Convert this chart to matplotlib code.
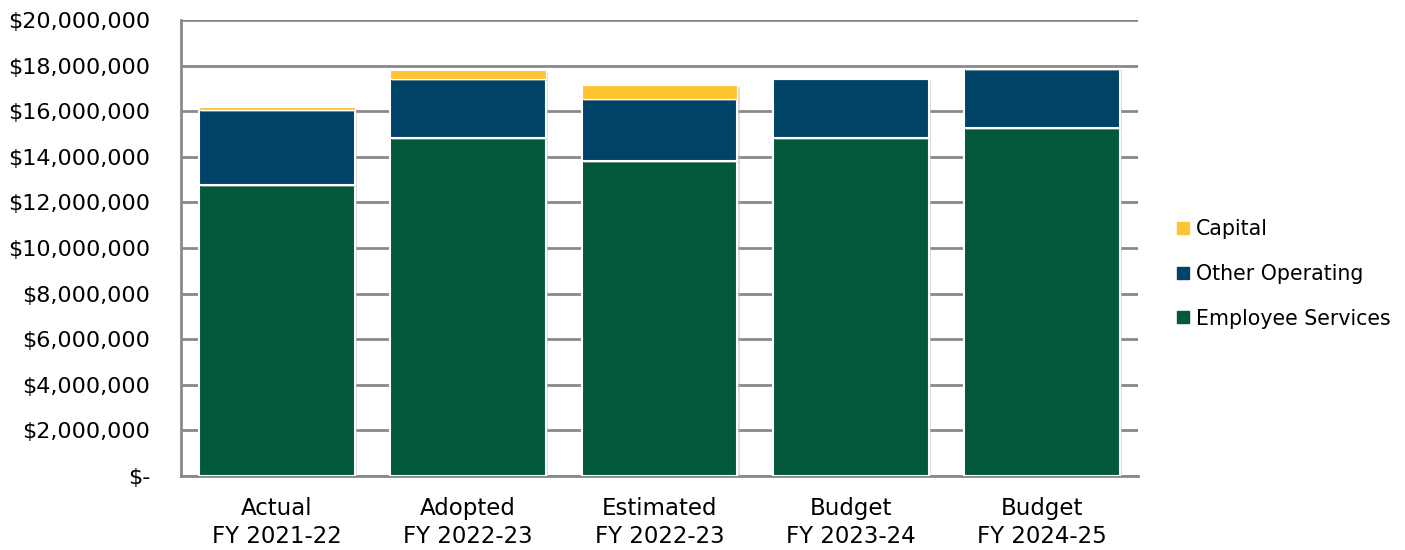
import matplotlib
matplotlib.use("Agg")
import matplotlib.pyplot as plt
from matplotlib.lines import Line2D
from matplotlib.ticker import FuncFormatter, MultipleLocator
import matplotlib.patheffects as pe

categories = ["Actual\nFY 2021-22", "Adopted\nFY 2022-23", "Estimated\nFY 2022-23",
              "Budget\nFY 2023-24", "Budget\nFY 2024-25"]
employee_services = [12_760_000, 14_810_000, 13_820_000, 14_840_000, 15_250_000]
other_operating = [3_290_000, 2_620_000, 2_720_000, 2_570_000, 2_600_000]
capital = [120_000, 380_000, 610_000, 0, 40_000]

c_emp = "#02583A"
c_oth = "#004368"
c_cap = "#FFC434"

plt.rcParams["font.family"] = ["DejaVu Sans"]

fig = plt.figure(figsize=(14.05, 5.5), dpi=100)
ax = fig.add_axes([181 / 1405, 1 - 476 / 550, (1138 - 181) / 1405, (476 - 20) / 550])

x = range(len(categories))
shadow = [pe.SimplePatchShadow(offset=(1.5, -1.5), shadow_rgbFace="#bbbbbb", alpha=0.5), pe.Normal()]
w = 0.815
bottoms2 = employee_services
bottoms3 = [a + b for a, b in zip(employee_services, other_operating)]
b1 = ax.bar(x, employee_services, width=w, color=c_emp, edgecolor="white", linewidth=1.5, zorder=3)
b2 = ax.bar(x, other_operating, width=w, bottom=bottoms2, color=c_oth, edgecolor="white", linewidth=1.5, zorder=3)
b3 = ax.bar(x, capital, width=w, bottom=bottoms3, color=c_cap, edgecolor="white", linewidth=0.8, zorder=3)
for bars in (b1, b2, b3):
    for p in bars:
        p.set_path_effects(shadow)

ax.set_xlim(-0.5, len(categories) - 0.5)
ax.set_ylim(0, 20_000_000)
ax.yaxis.set_major_locator(MultipleLocator(2_000_000))
ax.yaxis.set_major_formatter(FuncFormatter(lambda v, _: "$-" if v == 0 else f"${v:,.0f}"))
ax.grid(axis="y", color="#898989", linewidth=2, zorder=0)
ax.set_axisbelow(True)
for s in ("top", "right"):
    ax.spines[s].set_visible(False)
ax.spines["left"].set_color("#898989")
ax.spines["left"].set_linewidth(2)
ax.spines["bottom"].set_color("#898989")
ax.spines["bottom"].set_linewidth(2)
ax.tick_params(axis="both", length=0, colors="black")
ax.tick_params(axis="y", pad=22, labelsize=16)
ax.set_xticks(list(x))
ax.set_xticklabels(categories, linespacing=1.3)
ax.tick_params(axis="x", pad=15, labelsize=16.5)

handles = [
    Line2D([], [], marker="s", linestyle="none", color=c_cap, markersize=8, label="Capital"),
    Line2D([], [], marker="s", linestyle="none", color=c_oth, markersize=8, label="Other Operating"),
    Line2D([], [], marker="s", linestyle="none", color=c_emp, markersize=8, label="Employee Services"),
]
fig.legend(handles=handles, loc="center left", bbox_to_anchor=(1154 / 1405, 1 - 274 / 550),
           frameon=False, fontsize=14.8, handletextpad=0.15, labelspacing=1.2, handlelength=1.0)

fig.savefig("out.png", dpi=100)
